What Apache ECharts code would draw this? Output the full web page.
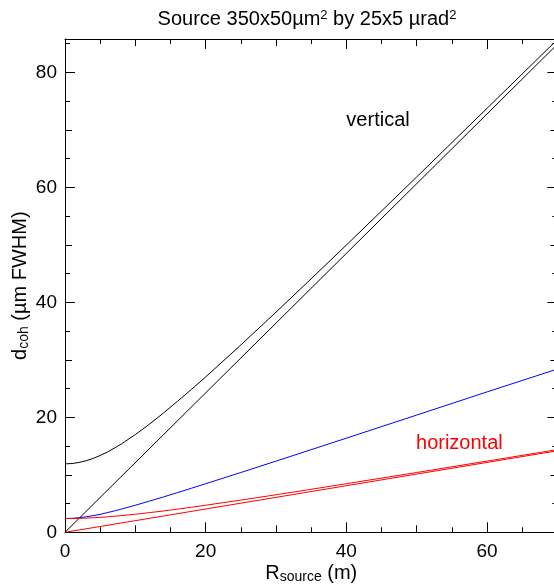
<!DOCTYPE html>
<html>
<head>
<meta charset="utf-8">
<script src="https://cdn.jsdelivr.net/npm/echarts@6/dist/echarts.min.js"></script>
<style>
  html, body { margin: 0; padding: 0; background: #fff; }
  #chart { width: 554px; height: 585px; }
</style>
</head>
<body>
<div id="chart"></div>
<script>
// Distance from the source (m)
const rSource = [0, 1, 2, 3, 4, 5, 6, 7, 8, 10, 12, 14, 16, 18, 20, 25, 30, 35, 40, 50, 60, 70];
// Vertical coherence length including the finite source size (um FWHM)
const verticalWithSize = [11.9, 11.96, 12.15, 12.45, 12.85, 13.36, 13.95, 14.63, 15.36, 16.99, 18.8, 20.75, 22.79, 24.88, 27.02, 32.58, 38.29, 44.1, 49.96, 61.81, 73.75, 85.7];
// Combined curve (blue)
const combined = [2.4, 2.43, 2.53, 2.69, 2.9, 3.12, 3.42, 3.71, 4.03, 4.71, 5.42, 6.15, 6.91, 7.67, 8.45, 10.4, 12.38, 14.37, 16.37, 20.39, 24.42, 28.4];
// Horizontal coherence length including the finite source size
const horizontalWithSize = [2.4, 2.41, 2.43, 2.47, 2.53, 2.6, 2.69, 2.79, 2.9, 3.14, 3.42, 3.71, 4.03, 4.36, 4.71, 5.6, 6.53, 7.48, 8.45, 10.4, 12.38, 14.38];
// Point-source (straight) lines, end points only
const rEnds = [0, 70];
const verticalPoint = [0, 84.9];
const horizontalPoint = [0, 14.18];

const xTickLabels = [0, 20, 40, 60];
const yTickLabels = [0, 20, 40, 60, 80];

const FONT = 'Liberation Sans, Arial, Helvetica, sans-serif';
const X_MAX = 70, Y_MAX = 85.8;

const pairs = (xs, ys) => xs.map((x, i) => [x, ys[i]]);

function xAxisDef(position, interval, tickLen, main) {
  const ax = {
    type: 'value', position, min: 0, max: X_MAX, interval,
    axisLine: { show: main, onZero: false, lineStyle: { color: '#000', width: 1 } },
    axisTick: { show: true, inside: true, length: tickLen, lineStyle: { color: '#000', width: 1 } },
    axisLabel: { show: false },
    splitLine: { show: false }
  };
  if (main && position === 'bottom') {
    ax.axisLabel = {
      show: true, color: '#000', fontFamily: FONT, fontSize: 19, margin: 10,
      formatter: v => (xTickLabels.includes(v) ? String(v) : '')
    };
    ax.name = '{n|R}{sub|source}{n| (m)}';
    ax.nameLocation = 'middle';
    ax.nameGap = 30;
    ax.nameMoveOverlap = false;
    ax.nameTextStyle = {
      rich: {
        n: { fontFamily: FONT, fontSize: 20, color: '#000' },
        sub: { fontFamily: FONT, fontSize: 14, color: '#000', verticalAlign: 'bottom', padding: [8, 0, 0, 0] }
      }
    };
  }
  return ax;
}

function yAxisDef(position, interval, tickLen, main) {
  const ax = {
    type: 'value', position, min: 0, max: Y_MAX, interval,
    axisLine: { show: main, onZero: false, lineStyle: { color: '#000', width: 1 } },
    axisTick: { show: true, inside: true, length: tickLen, lineStyle: { color: '#000', width: 1 } },
    axisLabel: { show: false },
    splitLine: { show: false }
  };
  if (main && position === 'left') {
    ax.axisLabel = {
      show: true, color: '#000', fontFamily: FONT, fontSize: 19, margin: 8,
      formatter: v => (yTickLabels.includes(v) ? String(v) : '')
    };
    ax.name = '{n|d}{sub|coh}{n| (µm FWHM)}';
    ax.nameLocation = 'middle';
    ax.nameRotate = 90;
    ax.nameGap = 34;
    ax.nameMoveOverlap = false;
    ax.nameTextStyle = {
      rich: {
        n: { fontFamily: FONT, fontSize: 20, color: '#000' },
        sub: { fontFamily: FONT, fontSize: 14, color: '#000', verticalAlign: 'bottom', padding: [8, 0, 0, 0] }
      }
    };
  }
  return ax;
}

function lineSeries(name, xs, ys, color) {
  return {
    name, type: 'line', xAxisIndex: 0, yAxisIndex: 0,
    data: pairs(xs, ys),
    symbol: 'none', showSymbol: false,
    smooth: false,
    lineStyle: { color, width: 1 },
    silent: true
  };
}

const chart = echarts.init(document.getElementById('chart'), null, { renderer: 'canvas' });
chart.setOption({
  animation: false,
  backgroundColor: '#fff',
  grid: { left: 65, top: 39, width: 492.4, height: 493.3, containLabel: false, outerBoundsMode: 'none' },
  xAxis: [
    xAxisDef('bottom', 20, 10, true),
    xAxisDef('bottom', 10, 7, false),
    xAxisDef('bottom', 5, 5, false),
    xAxisDef('top', 20, 10, true),
    xAxisDef('top', 10, 7, false),
    xAxisDef('top', 5, 5, false)
  ],
  yAxis: [
    yAxisDef('left', 20, 10, true),
    yAxisDef('left', 10, 7, false),
    yAxisDef('left', 5, 5, false),
    yAxisDef('right', 20, 10, true),
    yAxisDef('right', 10, 7, false),
    yAxisDef('right', 5, 5, false)
  ],
  series: [
    lineSeries('vertical, finite source', rSource, verticalWithSize, '#000'),
    lineSeries('vertical, point source', rEnds, verticalPoint, '#000'),
    lineSeries('combined', rSource, combined, '#0000ff'),
    lineSeries('horizontal, finite source', rSource, horizontalWithSize, '#ff0000'),
    lineSeries('horizontal, point source', rEnds, horizontalPoint, '#ff0000')
  ]
});

// Title and in-plot annotations
const finder = { xAxisIndex: 0, yAxisIndex: 0 };
const pVert = chart.convertToPixel(finder, [40, 71.7]);
const pHor = chart.convertToPixel(finder, [49.9, 15.5]);
chart.setOption({
  graphic: [
    {
      type: 'text', x: 307, y: 19,
      style: {
        text: '{t|Source 350x50µm}{s|2}{t| by 25x5 µrad}{s|2}',
        align: 'center', verticalAlign: 'middle',
        rich: {
          t: { fontFamily: FONT, fontSize: 20, fill: '#000' },
          s: { fontFamily: FONT, fontSize: 13, fill: '#000', verticalAlign: 'top', padding: [0, 0, 8, 0] }
        }
      }
    },
    {
      type: 'text', x: pVert[0], y: pVert[1],
      style: { text: 'vertical', fontFamily: FONT, fontSize: 20, fill: '#000', align: 'left', verticalAlign: 'middle' }
    },
    {
      type: 'text', x: pHor[0], y: pHor[1],
      style: { text: 'horizontal', fontFamily: FONT, fontSize: 20, fill: '#ff0000', align: 'left', verticalAlign: 'middle' }
    }
  ]
});
</script>
</body>
</html>
